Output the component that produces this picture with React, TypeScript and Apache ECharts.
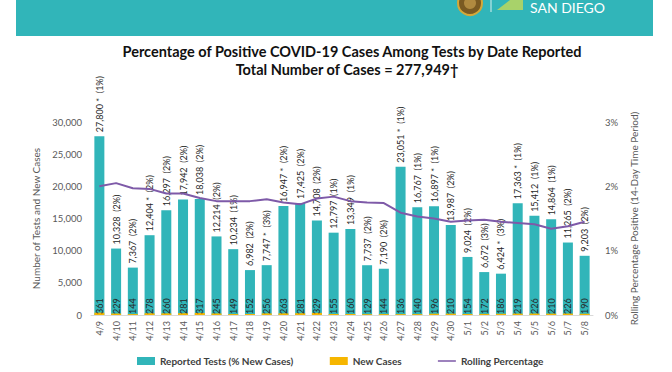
import React, { useEffect, useRef } from "react";
import * as echarts from "echarts";

const dates = ["4/9","4/10","4/11","4/12","4/13","4/14","4/15","4/16","4/17","4/18","4/19","4/20","4/21","4/22","4/23","4/24","4/25","4/26","4/27","4/28","4/29","4/30","5/1","5/2","5/3","5/4","5/5","5/6","5/7","5/8"];
const reportedTests = [27800,10328,7367,12404,16297,17942,18038,12214,10234,6982,7747,16947,17425,14708,12797,13349,7737,7190,23051,16767,16897,13987,9024,6672,6424,17363,15412,14864,11265,9203];
const newCases = [361,229,144,278,260,281,317,245,149,152,256,263,281,329,155,160,129,144,136,140,196,210,154,172,186,219,226,210,226,190];
const starred = [true,false,false,true,false,false,false,false,false,false,true,true,false,false,false,false,false,false,true,false,true,false,false,false,true,true,false,false,false,false];
const pctNew = [1,2,2,2,2,2,2,2,1,2,3,2,2,2,1,1,2,2,1,1,1,2,2,3,3,1,1,1,2,2];
const rollingPct = [2.0,2.05,1.97,1.96,1.89,1.89,1.82,1.77,1.77,1.77,1.8,1.75,1.72,1.81,1.84,1.77,1.75,1.74,1.59,1.53,1.5,1.45,1.47,1.48,1.45,1.43,1.41,1.34,1.38,1.45];
const leftTicks = { min: 0, max: 30000, interval: 5000 };
const rightTicks = { min: 0, max: 3, interval: 1 };

const FONT = "Lato";
const TEAL = "#31b5b9";
const ORANGE = "#f6b600";
const PURPLE = "#7e5aa8";
const LINE_ICON = "path://M0,0H0.01V0.01H0Z M0,3.2H18V4.8H0Z M17.99,7.99H18V8H17.99Z";

export default function App() {
  const ref = useRef<HTMLDivElement>(null);
  useEffect(() => {
    if (!ref.current) return;
    const chart = echarts.init(ref.current, undefined, { renderer: "svg" });
    const fmt = (v: number) => v.toLocaleString("en-US");
    chart.setOption({
      animation: false,
      textStyle: { fontFamily: FONT },
      title: [
        {
          text: "Percentage of Positive COVID-19 Cases Among Tests by Date Reported",
          left: 347, top: 39, textAlign: "center",
          textStyle: { fontFamily: FONT, fontSize: 14.5, fontWeight: "bold", color: "#111" },
        },
        {
          text: "Total Number of Cases = 277,949\u2020",
          left: 342, top: 57, textAlign: "center",
          textStyle: { fontFamily: FONT, fontSize: 14.5, fontWeight: "bold", color: "#111" },
        },
      ],
      graphic: [
        { type: "rect", shape: { x: 16, y: 0, width: 637, height: 36 }, style: { fill: TEAL }, silent: true },
        { type: "circle", shape: { cx: 470, cy: 3, r: 12 }, style: { fill: "#7a5a22", stroke: "#d4a838", lineWidth: 2 }, silent: true },
        { type: "circle", shape: { cx: 470, cy: 3, r: 6 }, style: { fill: "#b08a40" }, silent: true },
        { type: "line", shape: { x1: 491, y1: 0, x2: 491, y2: 12 }, style: { stroke: "#d8f0f0", lineWidth: 1 }, silent: true },
        { type: "polygon", shape: { points: [[497, 10], [523, 10], [523, 0], [510, 0]] }, style: { fill: "#a8d26a" }, silent: true },
        { type: "text", x: 530, y: 0, style: { text: "SAN DIEGO", fill: "#ffffff", font: "14px Lato", verticalAlign: "top" }, silent: true },
      ],
      legend: {
        bottom: 1,
        left: 132,
        itemGap: 36,
        itemWidth: 18,
        itemHeight: 8,
        textStyle: { fontFamily: FONT, fontSize: 10, fontWeight: "bold", color: "#404040" },
        data: [
          { name: "Reported Tests (% New Cases)", icon: "rect" },
          { name: "New Cases", icon: "rect" },
          { name: "Rolling Percentage", icon: LINE_ICON, itemStyle: { color: PURPLE } },
        ],
      },
      grid: { left: 91, right: 79, top: 122, bottom: 57 },
      xAxis: {
        type: "category",
        data: dates,
        axisLine: { lineStyle: { color: "#d9d9d9" } },
        axisTick: { show: false },
        axisLabel: { rotate: 90, fontSize: 9, color: "#595959", margin: 6, fontFamily: FONT },
      },
      yAxis: [
        {
          type: "value",
          ...leftTicks,
          name: "Number of Tests and New Cases",
          nameLocation: "middle",
          nameGap: 42,
          nameTextStyle: { fontSize: 10, color: "#595959", fontFamily: FONT },
          axisLine: { show: false },
          axisTick: { show: false },
          splitLine: { show: false },
          axisLabel: { fontSize: 9.5, color: "#595959", margin: 9, formatter: (v: number) => fmt(v) },
        },
        {
          type: "value",
          ...rightTicks,
          name: "Rolling Percentage Positive (14-Day Time Period)",
          nameLocation: "middle",
          nameGap: 34,
          nameRotate: 90,
          nameTextStyle: { fontSize: 10, color: "#595959", fontFamily: FONT },
          axisLine: { show: false },
          axisTick: { show: false },
          splitLine: { show: false },
          axisLabel: { fontSize: 9.5, color: "#595959", margin: 12, formatter: "{value}%" },
        },
      ],
      series: [
        {
          name: "Reported Tests (% New Cases)",
          type: "bar",
          data: reportedTests,
          barWidth: 10,
          itemStyle: { color: TEAL },
          z: 2,
          label: {
            show: true,
            position: "top",
            rotate: 90,
            align: "left",
            verticalAlign: "middle",
            distance: 4,
            fontSize: 9,
            color: "#262626",
            fontFamily: FONT,
            formatter: (p: any) => `${fmt(p.value)}${starred[p.dataIndex] ? " *" : ""}  (${pctNew[p.dataIndex]}%)`,
          },
        },
        {
          name: "New Cases",
          type: "bar",
          data: newCases,
          barWidth: 10,
          barGap: "-100%",
          itemStyle: { color: ORANGE },
          z: 3,
          label: {
            show: true,
            position: "insideBottom",
            rotate: 90,
            align: "left",
            verticalAlign: "middle",
            distance: 1,
            fontSize: 9,
            color: "#262626",
            fontFamily: FONT,
          },
        },
        {
          name: "Rolling Percentage",
          type: "line",
          yAxisIndex: 1,
          data: rollingPct,
          symbol: "none",
          z: 4,
          lineStyle: { color: PURPLE, width: 2 },
          itemStyle: { color: PURPLE },
        },
      ],
    });
    return () => chart.dispose();
  }, []);
  return <div ref={ref} style={{ width: 672, height: 372, position: "absolute", left: 0, top: 0 }} />;
}
